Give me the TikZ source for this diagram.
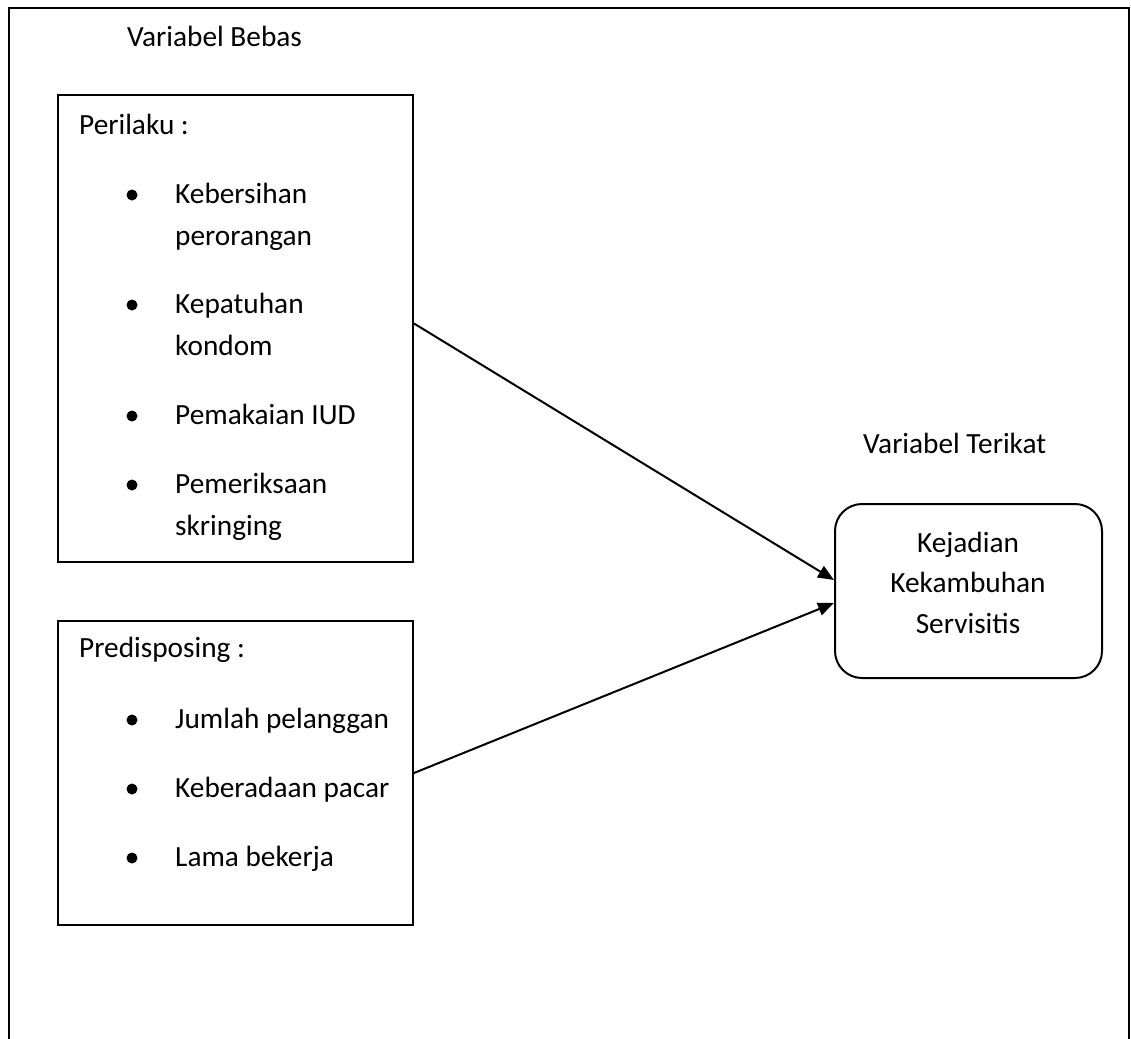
\documentclass[tikz,border=0pt]{standalone}
\usepackage{fontspec}
\setmainfont{Carlito}
\usetikzlibrary{arrows.meta}
\begin{document}
\begin{tikzpicture}[x=1pt,y=-1pt,
  frame/.style={line width=2pt},
  boxnode/.style={draw, line width=2pt, inner sep=0pt},
  txt/.style={inner sep=0pt, anchor=base west, font=\fontsize{29.3}{35}\selectfont},
  ctxt/.style={inner sep=0pt, anchor=base, font=\fontsize{29.3}{35}\selectfont},
  dot/.style={circle, fill=black, inner sep=0pt, minimum size=11pt},
  conn/.style={line width=2pt, -{Triangle[length=16pt,width=13pt]}}]
\useasboundingbox (0,0) rectangle (1131,1038);
% outer frame (open at bottom)
\coordinate (fbl) at (9,1045);
\coordinate (ftl) at (9,8);
\coordinate (ftr) at (1129,8);
\coordinate (fbr) at (1129,1045);
\draw[frame] (fbl) -- (ftl) -- (ftr) -- (fbr);
% headings
\node[txt] (bebas) at (127,47) {Variabel Bebas};
\node[txt] (terikat) at (863,453) {Variabel Terikat};
% boxes
\node[boxnode, minimum width=355pt, minimum height=467pt] (perilaku) at (235.5,328.5) {};
\node[boxnode, minimum width=355pt, minimum height=304pt] (predis) at (235.5,773) {};
\node[boxnode, rounded corners=27pt, minimum width=267pt, minimum height=174pt] (target) at (968.5,591) {};
% Perilaku contents
\node[txt] (pt) at (79,135) {Perilaku :};
\node[dot] (b1) at (132,195) {};
\node[txt] (t1a) at (175,203) {Kebersihan};
\node[txt] (t1b) at (175,245) {perorangan};
\node[dot] (b2) at (132,305) {};
\node[txt] (t2a) at (175,313) {Kepatuhan};
\node[txt] (t2b) at (175,355) {kondom};
\node[dot] (b3) at (132,416) {};
\node[txt] (t3) at (175,424) {Pemakaian IUD};
\node[dot] (b4) at (132,485) {};
\node[txt] (t4a) at (175,493) {Pemeriksaan};
\node[txt] (t4b) at (175,535) {skringing};
% Predisposing contents
\node[txt] (pd) at (79,657) {Predisposing :};
\node[dot] (c1) at (132,720) {};
\node[txt] (u1) at (175,728) {Jumlah pelanggan};
\node[dot] (c2) at (132,789) {};
\node[txt] (u2) at (175,797) {Keberadaan pacar};
\node[dot] (c3) at (132,858) {};
\node[txt] (u3) at (175,866) {Lama bekerja};
% target text
\node[ctxt] (k1) at (968,552) {Kejadian};
\node[ctxt] (k2) at (968,592) {Kekambuhan};
\node[ctxt] (k3) at (968,633) {Servisitis};
% connectors
\draw[conn] ([yshift=5pt]perilaku.east) -- ([yshift=11pt]target.west);
\draw[conn] (predis.east) -- ([yshift=-12pt]target.west);
\end{tikzpicture}
\end{document}
